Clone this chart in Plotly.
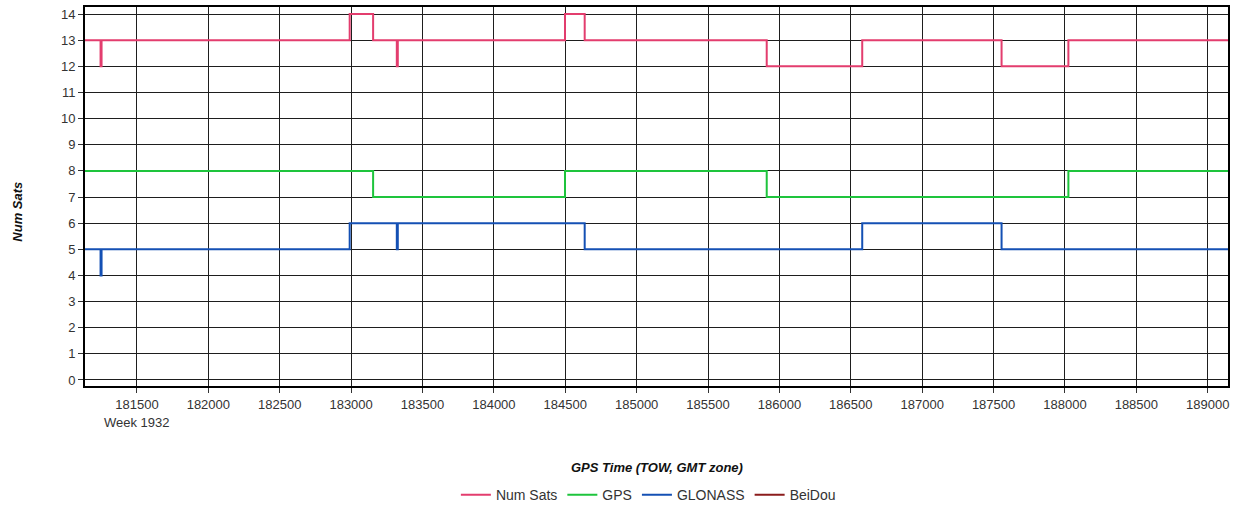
import plotly.graph_objects as go

# change points (GPS time of week, s) and satellite counts, step-wise
num_sats_t = [181136, 181245, 181252, 182990, 183154, 183320, 183327, 184498, 184636, 185911, 186580, 187556, 188024, 189142]
num_sats_v = [13, 12, 13, 14, 13, 12, 13, 14, 13, 12, 13, 12, 13, 13]

gps_t = [181136, 183154, 184498, 185911, 188024, 189142]
gps_v = [8, 7, 8, 7, 8, 8]

glonass_t = [181136, 181245, 181252, 182990, 183320, 183327, 184636, 186580, 187556, 189142]
glonass_v = [5, 4, 5, 6, 5, 6, 5, 6, 5, 5]

beidou_t = []
beidou_v = []

x_ticks = list(range(181500, 189001, 500))
y_ticks = list(range(0, 15))
week_label = 'Week 1932'

font_main = 'Liberation Sans, Arial, sans-serif'

fig = go.Figure()

series = [
    ('Num Sats', num_sats_t, num_sats_v, '#e33d6e'),
    ('GPS', gps_t, gps_v, '#1ec43c'),
    ('GLONASS', glonass_t, glonass_v, '#1450b4'),
    ('BeiDou', beidou_t, beidou_v, '#8b1c1c'),
]
for name, t, v, col in series:
    fig.add_trace(go.Scatter(x=t if t else [None], y=v if v else [None], mode='lines', name=name,
                             line=dict(color=col, width=2, shape='hv')))

axis_common = dict(
    showline=True, linecolor='black', linewidth=2, mirror=True,
    showgrid=True, gridcolor='#1e1e1e', gridwidth=1,
    ticks='outside', ticklen=5, tickcolor='#333', zeroline=False,
    tickfont=dict(family=font_main, size=13, color='#333'),
    automargin=False,
)

fig.update_xaxes(range=[181136, 189142], tickvals=x_ticks,
                 ticktext=[str(v) for v in x_ticks], **axis_common)
fig.update_yaxes(range=[-0.23, 14.27], tickvals=y_ticks, **axis_common)

# axis titles and week label
fig.add_annotation(x=x_ticks[0], xref='x', y=-0.07, yref='paper', yanchor='top',
                   text=week_label, showarrow=False,
                   font=dict(family=font_main, size=13, color='#333'))
fig.add_annotation(x=0.5, xref='paper', y=-0.19, yref='paper', yanchor='top',
                   text='<b><i>GPS Time (TOW, GMT zone)</i></b>', showarrow=False,
                   font=dict(family=font_main, size=13, color='#111'))
fig.add_annotation(x=-0.0586, xref='paper', xanchor='center', y=0.46, yref='paper', textangle=-90,
                   text='<b><i>Num Sats</i></b>', showarrow=False,
                   font=dict(family=font_main, size=13, color='#111'))

fig.update_layout(
    width=1235, height=506,
    margin=dict(l=85, r=7, t=7, b=120),
    plot_bgcolor='white', paper_bgcolor='white',
    showlegend=True,
    legend=dict(orientation='h', x=0.525, xref='container', xanchor='center',
                y=0.053, yref='container', yanchor='top',
                font=dict(family=font_main, size=14, color='#333'),
                itemwidth=30, tracegroupgap=0),
)

fig.write_html('out.html', config={'displayModeBar': False},
               post_script="document.body.style.margin='0';")
